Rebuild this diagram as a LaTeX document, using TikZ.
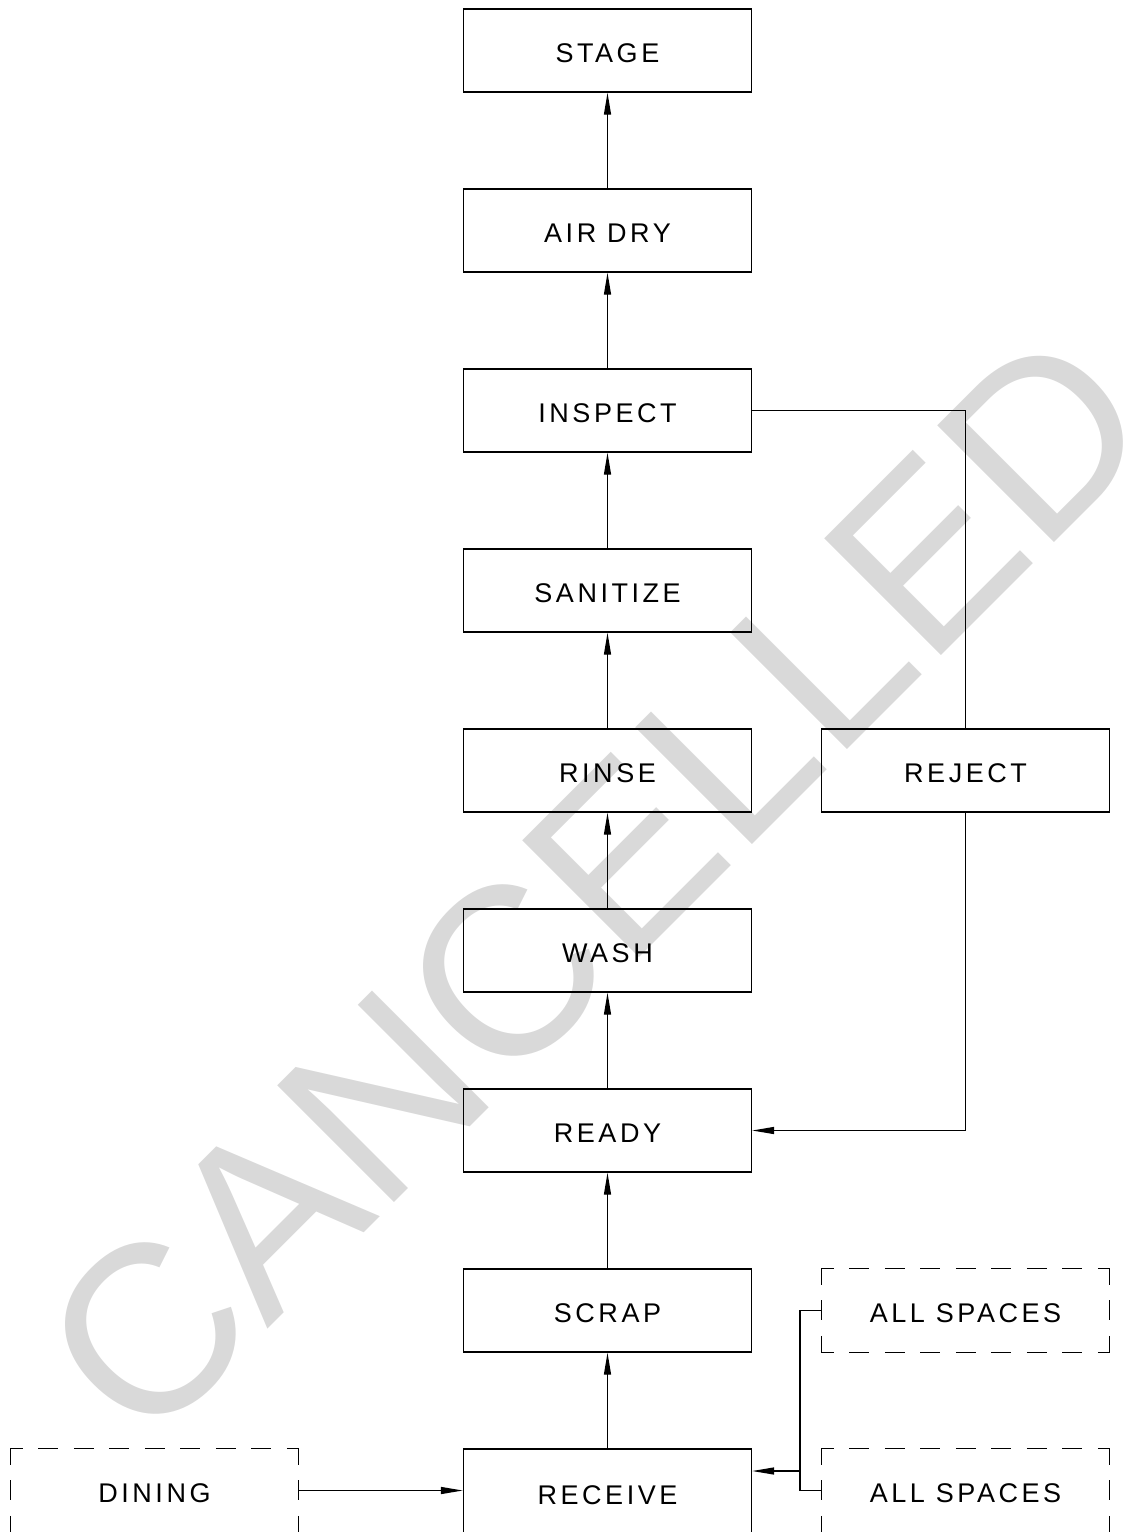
\documentclass[tikz,border=0pt]{standalone}
\usepackage{fontspec}
\setmainfont{Liberation Sans}
\newfontfamily\labfont[LetterSpace=13]{Liberation Sans}
\newfontfamily\wmfont{Liberation Sans}
\usetikzlibrary{arrows.meta}
\definecolor{wmgray}{HTML}{D9D9D9}
\tikzset{
  stepbox/.style={draw=black, line width=1.3pt, minimum width=288pt, minimum height=83pt,
    inner sep=0pt, font=\labfont\fontsize{27}{27}\selectfont, text height=24.4pt, text depth=0pt},
  dbox/.style={draw=none, minimum width=288pt, minimum height=83pt,
    inner sep=0pt, font=\labfont\fontsize{27}{27}\selectfont, text height=24.4pt, text depth=0pt},
  conn/.style={line width=1.3pt},
  arr/.style={line width=1.3pt, -{Triangle[length=22pt,width=7pt]}},
  hdash/.style={line width=1.3pt, dash pattern=on 20pt off 15.5pt, dash phase=7.5pt},
  vdash/.style={line width=1.3pt, dash pattern=on 20pt off 15.5pt, dash phase=4pt},
}
\begin{document}
\begin{tikzpicture}[x=1pt,y=-1pt]
\useasboundingbox (0,0) rectangle (1136,1532);
% watermark
\node[rotate=45, anchor=base, text=wmgray, font=\wmfont\fontsize{240}{240}\selectfont, inner sep=0pt]
  (wm) at (654,943) {CANCELLED};
% main column
\node[stepbox] (stage)    at (607.5,50.5)  {STAGE};
\node[stepbox] (airdry)   at (607.5,230.5) {AIR DRY};
\node[stepbox] (inspect)  at (607.5,410.5) {INSPECT};
\node[stepbox] (sanitize) at (607.5,590.5) {SANITIZE};
\node[stepbox] (rinse)    at (607.5,770.5) {RINSE};
\node[stepbox] (wash)     at (607.5,950.5) {WASH};
\node[stepbox] (ready)    at (607.5,1130.5) {READY};
\node[stepbox] (scrap)    at (607.5,1310.5) {SCRAP};
\node[stepbox, minimum height=86pt] (receive) at (607.5,1492) {RECEIVE};
\node[stepbox] (reject)   at (965.5,770.5) {REJECT};
% dashed boxes
\node[dbox] (as1) at (965.5,1310.5) {ALL SPACES};
\node[dbox] (as2) at (965.5,1490.5) {ALL SPACES};
\node[dbox] (dining) at (154.5,1490.5) {DINING};
\foreach \n in {as1,as2,dining}{
  \draw[hdash] (\n.north west) -- (\n.north east);
  \draw[hdash] (\n.south west) -- (\n.south east);
  \draw[vdash] (\n.north west) -- (\n.south west);
  \draw[vdash] (\n.north east) -- (\n.south east);
}
% connectors
\draw[arr] (receive) -- (scrap);
\draw[arr] (scrap) -- (ready);
\draw[arr] (ready) -- (wash);
\draw[arr] (wash) -- (rinse);
\draw[arr] (rinse) -- (sanitize);
\draw[arr] (sanitize) -- (inspect);
\draw[arr] (inspect) -- (airdry);
\draw[arr] (airdry) -- (stage);
\draw[conn] (inspect.east) -| (reject.north);
\draw[arr] (reject.south) |- (ready.east);
\draw[arr] (dining.east) -- (dining.east -| receive.west);
\coordinate (jn) at (800,1471);
\draw[conn] (as1.west) -- (as1.west -| jn) -- (as2.west -| jn) -- (as2.west);
\draw[arr] (jn) -- (jn -| receive.east);
\end{tikzpicture}
\end{document}
